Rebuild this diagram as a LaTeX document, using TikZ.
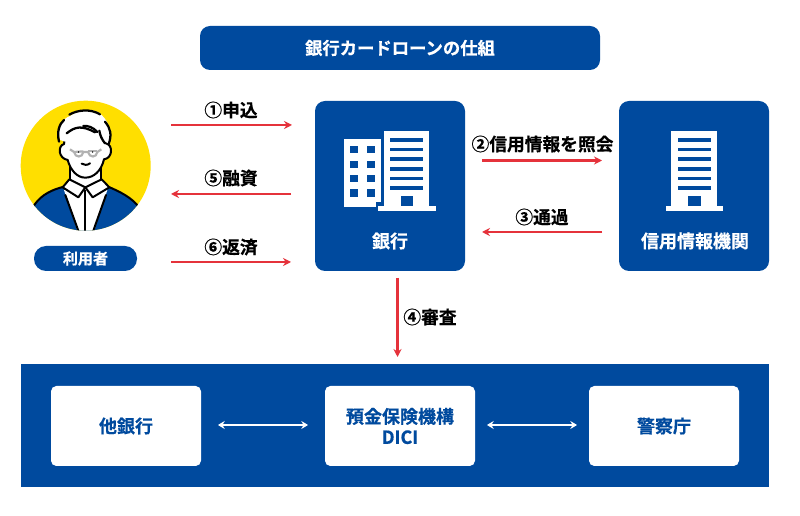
\documentclass[tikz,border=0pt]{standalone}
\usepackage{fontspec}
\newfontfamily\jpfont[FakeBold=0.5]{Noto Sans CJK JP Bold}
\usetikzlibrary{arrows.meta}
\definecolor{navy}{HTML}{004A9E}
\definecolor{arrowred}{HTML}{E5323B}
\definecolor{sunny}{HTML}{FFDF00}
\tikzset{
  x=0.75pt,y=-0.75pt,
  every node/.style={font=\jpfont,inner sep=0pt,outer sep=0pt,align=center},
  bluebox/.style={fill=navy,rounded corners=7.5pt,text=white},
  whitebox/.style={fill=white,rounded corners=4pt,text=navy,font=\jpfont\fontsize{13.5pt}{15.5pt}\selectfont},
  redarrow/.style={draw=arrowred,line width=1.6pt,-{Stealth[length=6pt,width=6pt]}},
  whitearrow/.style={draw=white,line width=1.2pt,{Stealth[length=5pt,width=6pt]}-{Stealth[length=5pt,width=6pt]}},
  steplabel/.style={font=\jpfont\fontsize{13.3pt}{15pt}\selectfont,text=black},
  iconwhite/.style={fill=white,draw=none},
  iconblue/.style={fill=navy,draw=none},
  ink/.style={draw=black,line width=1.5pt,line join=round,line cap=round},
}
\begin{document}
\begin{tikzpicture}
\useasboundingbox (0,0) rectangle (800,516);
\fill[white] (0,0) rectangle (800,516);

% title
\node[bluebox,minimum width=300pt,minimum height=33pt,font=\jpfont\fontsize{13pt}{15pt}\selectfont] (title) at (400,48) {銀行カードローンの仕組};

% user
\fill[sunny] (85.7,165.7) circle (65);
\begin{scope}
\clip (85.7,165.7) circle (65);
\begin{scope}[shift={(0,90)},x=0.25pt,y=-0.25pt]
  % jacket
  \fill[navy,draw=black,line width=1.5pt] (103,345) .. controls (125,312) and (160,298) .. (192,290) -- (300,280) .. controls (345,298) and (385,315) .. (412,345) -- (440,440) -- (80,440) -- cycle;
  % shirt
  \fill[white] (192,300) -- (322,300) -- (280,430) -- (235,430) -- cycle;
  \draw[ink] (196,315) -- (236,425);
  \draw[ink] (318,315) -- (279,425);
  \draw[ink] (256,300) -- (256,425);
  % neck
  \fill[white] (212,225) -- (300,225) -- (300,270) -- (256,300) -- (212,270) -- cycle;
  \draw[ink] (210,225) -- (210,268);
  \draw[ink] (302,225) -- (302,268);
  % collar
  \fill[white,draw=black,line width=1.5pt,line join=round] (208,268) -- (188,292) -- (235,322) -- (256,292) -- cycle;
  \fill[white,draw=black,line width=1.5pt,line join=round] (305,268) -- (328,292) -- (278,322) -- (256,292) -- cycle;
  % head
  \fill[white,draw=black,line width=1.5pt] (192,162) .. controls (172,168) and (175,205) .. (203,210) .. controls (212,242) and (232,263) .. (256,263) .. controls (282,263) and (304,242) .. (312,208) .. controls (338,205) and (340,165) .. (318,160) -- (310,110) -- (200,110) -- cycle;
  % hair
  \fill[white] (180,150) .. controls (170,110) and (190,85) .. (210,78) .. controls (240,55) and (290,55) .. (305,75) .. controls (330,100) and (335,130) .. (325,160) -- (305,150) -- (195,155) -- cycle;
  \draw[ink,line width=1.7pt] (177,155) .. controls (170,125) and (178,102) .. (192,90);
  \draw[ink,line width=1.7pt] (208,74) .. controls (232,60) and (270,55) .. (300,73);
  \draw[ink,line width=1.7pt] (315,95) .. controls (332,115) and (336,135) .. (326,162);
  \draw[ink,line width=1.7pt] (200,130) .. controls (225,110) and (245,105) .. (285,127);
  \draw[ink,line width=1.7pt] (250,108) .. controls (262,106) and (280,112) .. (292,126);
  \draw[ink,line width=1.7pt] (298,122) .. controls (300,135) and (305,148) .. (315,160);
  % glasses
  \draw[black!30,line width=1.6pt] (210,178) -- (222,186) .. controls (226,204) and (247,204) .. (250,186) -- (264,186) .. controls (268,204) and (290,204) .. (292,186) -- (304,178);
  \draw[black!30,line width=1.6pt] (222,186) -- (250,184);
  \draw[black!30,line width=1.6pt] (264,184) -- (292,184);
  \fill (236,186) circle (2.4);
  \fill (278,186) circle (2.4);
  % mouth
  \draw[ink] (245,221) .. controls (252,226) and (262,226) .. (270,220);
\end{scope}
\end{scope}
\node[fill=navy,rounded corners=9pt,minimum width=77.25pt,minimum height=18.75pt,text=white,font=\jpfont\fontsize{11.3pt}{13pt}\selectfont] (user) at (85.5,258.5) {利用者};
\coordinate (userR1) at (171,125);
\coordinate (userR2) at (171,194);
\coordinate (userR3) at (171,262);

% bank
\node[bluebox,minimum width=112.5pt,minimum height=127.5pt] (bank) at (390,186) {};
\node[text=white,font=\jpfont\fontsize{13.5pt}{15pt}\selectfont] (banklabel) at (390,241) {銀行};
\begin{scope}[shift={(310,95)},x=0.25pt,y=-0.25pt]
  \fill[iconwhite] (103,133) rectangle (213,335);
  \foreach \yy in {153,197,240,283} {
    \fill[iconblue] (120,\yy) rectangle (145,\yy+22);
    \fill[iconblue] (172,\yy) rectangle (196,\yy+22);
  }
  \fill[navy] (197,322) rectangle (223,335);
  \fill[iconwhite] (223,107) rectangle (358,335);
  \foreach \yy in {129,158,187,216,245,274} {
    \fill[iconblue] (241,\yy) rectangle (340,\yy+11);
  }
  \fill[iconblue] (272,303) rectangle (310,333);
  \fill[iconwhite] (205,333) rectangle (378,348);
\end{scope}

% credit agency
\node[bluebox,minimum width=112.5pt,minimum height=127.5pt] (credit) at (694,186) {};
\node[text=white,font=\jpfont\fontsize{13.5pt}{15pt}\selectfont] (creditlabel) at (695,241) {信用情報機関};
\begin{scope}[shift={(470,95)},x=0.25pt,y=-0.25pt]
  \fill[iconwhite] (604,107) rectangle (742,335);
  \foreach \yy in {129,158,187,216,245,274} {
    \fill[iconblue] (624,\yy) rectangle (722,\yy+11);
  }
  \fill[iconblue] (654,303) rectangle (693,333);
  \fill[iconwhite] (588,333) rectangle (759,348);
\end{scope}

% bottom band
\node[fill=navy,minimum width=561pt,minimum height=92.25pt] (band) at (395,425.5) {};
\node[whitebox,minimum width=112.5pt,minimum height=60pt] (other) at (126,426) {他銀行};
\node[whitebox,minimum width=112.5pt,minimum height=60pt] (dici) at (400,426) {預金保険機構\\DICI};
\node[whitebox,minimum width=112.5pt,minimum height=60pt] (police) at (664,426) {警察庁};

% step arrows
\coordinate (bankL1) at (292,125);
\coordinate (bankL2) at (291,194);
\coordinate (bankL3) at (291,262);
\coordinate (bankR1) at (482,160.5);
\coordinate (bankR2) at (482,232);
\coordinate (creditL1) at (602,160.5);
\coordinate (creditL2) at (602,232);
\coordinate (bankB) at (397.5,278);
\coordinate (bandT) at (397.5,357);
\draw[redarrow] (userR1) -- (bankL1);
\draw[redarrow] (bankL2) -- (userR2);
\draw[redarrow] (userR3) -- (bankL3);
\draw[redarrow] (bankR1) -- (creditL1);
\draw[redarrow] (creditL2) -- (bankR2);
\draw[redarrow] (bankB) -- (bandT);

\node[steplabel] (s1) at (231,110) {①申込};
\node[steplabel] (s2) at (542.5,144) {②信用情報を照会};
\node[steplabel] (s3) at (542,217) {③通過};
\node[steplabel] (s4) at (430,317) {④審査};
\node[steplabel] (s5) at (231,178) {⑤融資};
\node[steplabel] (s6) at (231,247) {⑥返済};

% white double arrows
\draw[whitearrow] (other.east) ++(17,-1) coordinate (oe) -- ++(90,0) coordinate (de);
\draw[whitearrow] (dici.east) ++(12,-1) coordinate (df) -- ++(90,0) coordinate (pe);
\end{tikzpicture}
\end{document}
